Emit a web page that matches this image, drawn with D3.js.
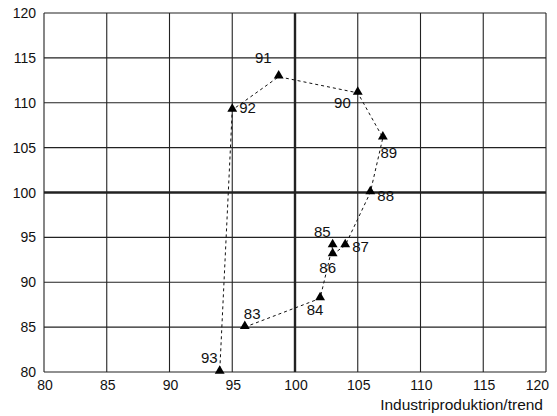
<!DOCTYPE html>
<html>
<head>
<meta charset="utf-8">
<script src="https://cdn.jsdelivr.net/npm/d3@7/dist/d3.min.js"></script>
<style>
  body { margin: 0; background: #fff; }
  text { font-family: "Liberation Sans", Arial, sans-serif; fill: #111; }
</style>
</head>
<body>
<div id="chart"></div>
<script>
const width = 557;
const height = 416;

// Data: years and their (industrial production, y-index) positions
const years = ['83', '84', '85', '86', '87', '88', '89', '90', '91', '92', '93'];
const xValues = [96, 102, 103, 103, 104, 106, 107, 105, 98.7, 95, 94];
const yValues = [85, 88.2, 94.1, 93.1, 94.1, 100, 106.1, 111.1, 112.9, 109.2, 80];
const xTicks = [80, 85, 90, 95, 100, 105, 110, 115, 120];
const yTicks = [80, 85, 90, 95, 100, 105, 110, 115, 120];
const xLabel = 'Industriproduktion/trend';

// Label offsets relative to each triangle
const labelPos = {
    '83': [-1, -8, 'start'],
    '84': [-5, 17, 'middle'],
    '85': [-2, -8, 'end'],
    '86': [-5, 19, 'middle'],
    '87': [7, 7, 'start'],
    '88': [7, 8, 'start'],
    '89': [6, 20, 'middle'],
    '90': [-7, 15, 'end'],
    '91': [-7, -14, 'end'],
    '92': [7, 3, 'start'],
    '93': [-2, -9, 'end']
};

const margin = { top: 13, right: 11, bottom: 45, left: 44 };

const svg = d3.select('#chart')
    .append('svg')
    .attr('width', width)
    .attr('height', height);

const x = d3.scaleLinear()
    .domain([80, 120])
    .range([margin.left, width - margin.right]);

const y = d3.scaleLinear()
    .domain([80, 120])
    .range([height - margin.bottom + 1, margin.top]);

// Grid
svg.append('g')
    .selectAll('line')
    .data(xTicks)
    .enter().append('line')
    .attr('x1', d => x(d)).attr('x2', d => x(d))
    .attr('y1', y(80)).attr('y2', y(120))
    .attr('stroke', '#222')
    .attr('stroke-width', d => d === 100 ? 2.4 : 1.1);

svg.append('g')
    .selectAll('line')
    .data(yTicks)
    .enter().append('line')
    .attr('y1', d => y(d)).attr('y2', d => y(d))
    .attr('x1', x(80)).attr('x2', x(120))
    .attr('stroke', '#222')
    .attr('stroke-width', d => d === 100 ? 2.4 : 1.1);

// Tick labels
svg.append('g')
    .selectAll('text')
    .data(yTicks)
    .enter().append('text')
    .attr('x', 36)
    .attr('y', d => y(d))
    .attr('dy', '0.36em')
    .attr('text-anchor', 'end')
    .style('font-size', '14px')
    .text(d => d);

// last x label sits inside the edge, like the original
svg.append('g')
    .selectAll('text')
    .data(xTicks)
    .enter().append('text')
    .attr('x', d => d === 120 ? width - 8 : x(d) + 1)
    .attr('y', 390)
    .attr('text-anchor', d => d === 120 ? 'end' : 'middle')
    .style('font-size', '14px')
    .text(d => d);

svg.append('text')
    .attr('x', width - 14)
    .attr('y', 410)
    .attr('text-anchor', 'end')
    .style('font-size', '15.5px')
    .text(xLabel);

// Path between the years
const points = years.map((yr, i) => ({ year: yr, x: xValues[i], y: yValues[i] }));

const line = d3.line()
    .x(d => x(d.x))
    .y(d => y(d.y));

svg.append('path')
    .datum(points)
    .attr('d', line)
    .attr('fill', 'none')
    .attr('stroke', '#111')
    .attr('stroke-width', 1)
    .attr('stroke-dasharray', '3,3');

// Triangles
svg.append('g')
    .selectAll('path')
    .data(points)
    .enter().append('path')
    .attr('d', d3.symbol().type(d3.symbolTriangle).size(42))
    .attr('transform', d => `translate(${x(d.x)},${y(d.y) - 1})`)
    .attr('fill', '#000');

// Year labels
svg.append('g')
    .selectAll('text')
    .data(points)
    .enter().append('text')
    .attr('x', d => x(d.x) + labelPos[d.year][0])
    .attr('y', d => y(d.y) + labelPos[d.year][1])
    .attr('text-anchor', d => labelPos[d.year][2])
    .style('font-size', '15px')
    .text(d => d.year);
</script>
</body>
</html>
